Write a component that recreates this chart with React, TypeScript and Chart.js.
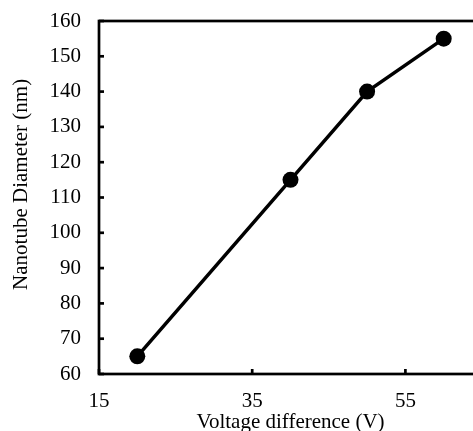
import React, { useEffect, useRef } from "react";
import { Chart, registerables } from "chart.js";

Chart.register(...registerables);

const voltage = [20, 40, 50, 60];
const diameter = [65, 115, 140, 155];
const xTicks = [15, 35, 55];
const xTitle = "Voltage difference (V)";
const yTitle = "Nanotube Diameter (nm)";

const FONT = "'Liberation Serif', 'Times New Roman', serif";

const frameAndTicks = {
  id: "frameAndTicks",
  beforeDatasetsDraw(chart: any) {
    const { ctx, chartArea, scales } = chart;
    ctx.save();
    ctx.strokeStyle = "#000";
    ctx.lineWidth = 2.7;
    ctx.strokeRect(chartArea.left, chartArea.top, chartArea.right - chartArea.left, chartArea.bottom - chartArea.top);
    const len = 5;
    scales.y.ticks.forEach((t: any) => {
      const y = scales.y.getPixelForValue(t.value);
      ctx.beginPath();
      ctx.moveTo(chartArea.left, y);
      ctx.lineTo(chartArea.left + len, y);
      ctx.stroke();
    });
    scales.x.ticks.forEach((t: any) => {
      const x = scales.x.getPixelForValue(t.value);
      ctx.beginPath();
      ctx.moveTo(x, chartArea.bottom);
      ctx.lineTo(x, chartArea.bottom - len);
      ctx.stroke();
    });
    ctx.restore();
  },
};

export default function App() {
  const ref = useRef<HTMLCanvasElement>(null);
  useEffect(() => {
    if (!ref.current) return;
    const chart = new Chart(ref.current, {
      type: "line",
      data: {
        datasets: [
          {
            data: voltage.map((v, i) => ({ x: v, y: diameter[i] })),
            borderColor: "#000",
            backgroundColor: "#000",
            borderWidth: 3.5,
            pointRadius: 8,
            pointBackgroundColor: "#000",
            pointBorderWidth: 0,
            clip: false as any,
          },
        ],
      },
      options: {
        responsive: false,
        animation: false,
        layout: { padding: { top: 21, right: 7, left: 0, bottom: 0 } },
        plugins: { legend: { display: false }, tooltip: { enabled: false } },
        scales: {
          x: {
            type: "linear",
            min: 15,
            max: 65,
            grid: { display: false, drawTicks: true, tickLength: 15 },
            border: { display: false },
            afterBuildTicks: (s: any) => {
              s.ticks = xTicks.map((v) => ({ value: v }));
            },
            ticks: {
              padding: 0,
              color: "#000",
              font: { family: FONT, size: 21 },
              callback: (v: any) => String(v),
            },
            title: {
              display: true,
              text: xTitle,
              color: "#000",
              font: { family: FONT, size: 21 },
              padding: { top: 0, bottom: 0 },
            },
            afterFit: (s: any) => {
              s.height = 61;
            },
          },
          y: {
            min: 60,
            max: 160,
            grid: { display: false, drawTicks: true, tickLength: 18 },
            border: { display: false },
            ticks: {
              stepSize: 10,
              padding: 0,
              color: "#000",
              font: { family: FONT, size: 21 },
            },
            title: {
              display: true,
              text: "     " + yTitle,
              color: "#000",
              font: { family: FONT, size: 21 },
              padding: { top: 9, bottom: 0 },
            },
            afterFit: (s: any) => {
              s.width = 99;
            },
          },
        },
      },
      plugins: [frameAndTicks],
    });
    return () => chart.destroy();
  }, []);
  return (
    <div style={{ position: "absolute", left: 0, top: 0, width: 473, height: 431, overflow: "hidden", background: "#fff" }}>
      <canvas ref={ref} width={490} height={435} style={{ width: 490, height: 435, display: "block" }} />
    </div>
  );
}
